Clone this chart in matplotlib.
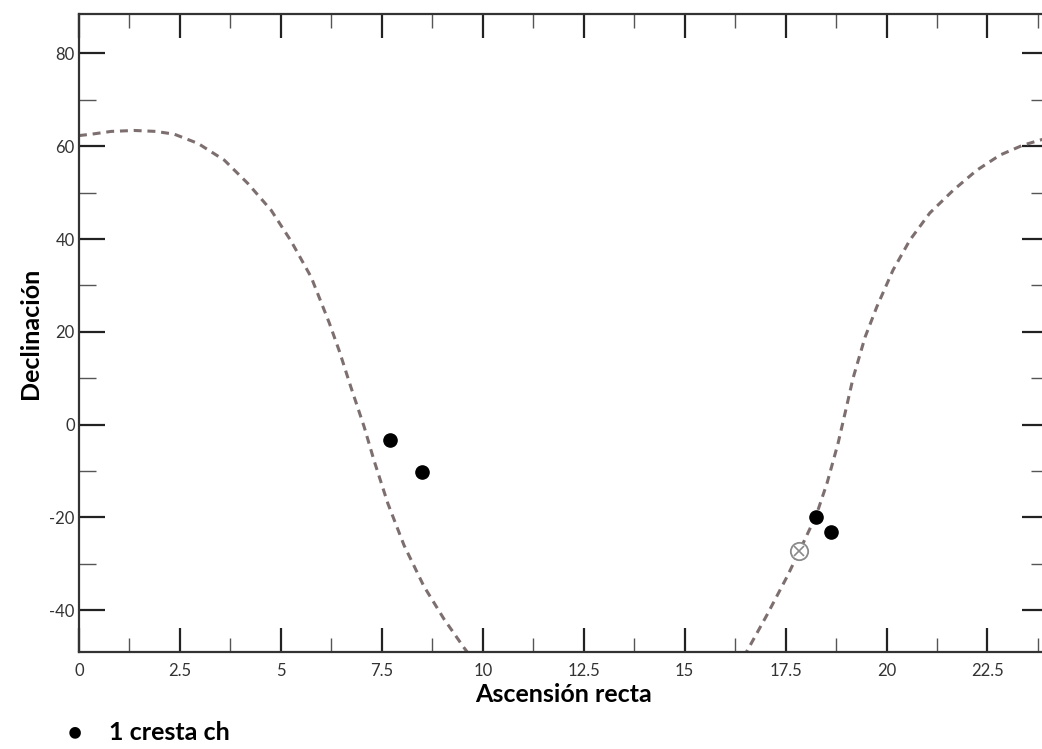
import matplotlib.pyplot as plt
from matplotlib.ticker import MultipleLocator, FixedLocator, FixedFormatter

plt.rcParams['font.family'] = ['Lato', 'DejaVu Sans']

# dashed curve, left branch (ascension, declination)
left_ra = [0.0, 0.31, 0.8, 1.37, 1.9, 2.36, 2.95, 3.6, 4.18, 4.76, 5.25, 5.75,
           6.2, 6.45, 6.73, 7.06, 7.31, 7.65, 8.05, 8.54, 9.04, 9.53, 9.7]
left_dec = [62.3, 62.6, 63.2, 63.4, 63.2, 62.6, 60.6, 57.0, 52.0, 46.2, 39.6, 31.8,
            21.9, 15.8, 8.2, -0.4, -7.8, -17.0, -26.0, -34.8, -41.9, -48.0, -50.0]

# dashed curve, right branch
right_ra = [16.45, 16.55, 17.04, 17.54, 17.84, 18.26, 18.53, 18.8, 19.0, 19.17,
            19.47, 19.76, 20.16, 20.58, 21.07, 21.65, 22.23, 22.81, 23.37, 23.79, 24.0]
right_dec = [-50.0, -48.7, -41.0, -32.7, -27.3, -19.5, -12.5, -4.0, 3.5, 10.0,
             18.9, 25.4, 33.3, 39.8, 45.6, 50.5, 54.8, 58.1, 60.2, 61.3, 61.8]

# "1 cresta ch" sources
dot_ra = [7.71, 8.49, 18.26, 18.62]
dot_dec = [-3.4, -10.3, -20.0, -23.2]

# crossed open circle
open_ra = [17.84]
open_dec = [-27.3]

x_ticks = [0, 2.5, 5, 7.5, 10, 12.5, 15, 17.5, 20, 22.5]
x_labels = ['0', '2.5', '5', '7.5', '10', '12.5', '15', '17.5', '20', '22.5']
y_ticks = [-40, -20, 0, 20, 40, 60, 80]
y_labels = ['-40', '-20', '0', '20', '40', '60', '80']

line_col = '#7d6f6f'
ink = '#222222'

fig = plt.figure(figsize=(10.42, 7.49), dpi=100)
ax = fig.add_axes([0.0758, 0.1295, 0.930, 0.8518])

ax.plot(left_ra, left_dec, color=line_col, lw=2.2, dashes=(2.6, 1.9))
ax.plot(right_ra, right_dec, color=line_col, lw=2.2, dashes=(2.6, 1.9))
ax.plot(dot_ra, dot_dec, 'o', color='black', ms=9.5, zorder=5)
ax.plot(open_ra, open_dec, 'o', mfc='white', mec='#8a8a8a', mew=1.3, ms=12.5, zorder=5)
ax.plot(open_ra, open_dec, 'x', color='#8a8a8a', mew=1.2, ms=7, zorder=6)

ax.set_xlim(0, 24)
ax.set_ylim(-49, 88.5)

ax.xaxis.set_major_locator(FixedLocator(x_ticks))
ax.xaxis.set_major_formatter(FixedFormatter(x_labels))
ax.xaxis.set_minor_locator(MultipleLocator(1.25))
ax.yaxis.set_major_locator(FixedLocator(y_ticks))
ax.yaxis.set_major_formatter(FixedFormatter(y_labels))
ax.yaxis.set_minor_locator(MultipleLocator(10))

ax.tick_params(axis='x', which='major', direction='in', top=True, length=17,
               width=1.6, color=ink, labelsize=12, labelcolor='#333333', pad=8)
ax.tick_params(axis='x', which='minor', direction='in', top=True, length=10,
               width=1.0, color='#555555')
ax.tick_params(axis='y', which='major', direction='in', right=True, length=19,
               width=1.6, color=ink, labelsize=12, labelcolor='#333333', pad=3)
ax.tick_params(axis='y', which='minor', direction='in', right=True, length=12,
               width=1.0, color='#555555')

for side in ['left', 'bottom', 'top', 'right']:
    ax.spines[side].set_linewidth(1.6)
    ax.spines[side].set_color('#333333')

ax.set_xlabel('Ascensión recta', fontsize=18, fontweight='bold', labelpad=3)
ax.set_ylabel('Declinación', fontsize=18, fontweight='bold', labelpad=5)

# legend line under the chart
fig.text(0.072, 0.0214, '●', fontsize=17, color='black', ha='center', va='center')
fig.text(0.105, 0.0214, '1 cresta ch', fontsize=18, fontweight='bold', va='center')

fig.savefig('out.png', dpi=100, facecolor='white')
